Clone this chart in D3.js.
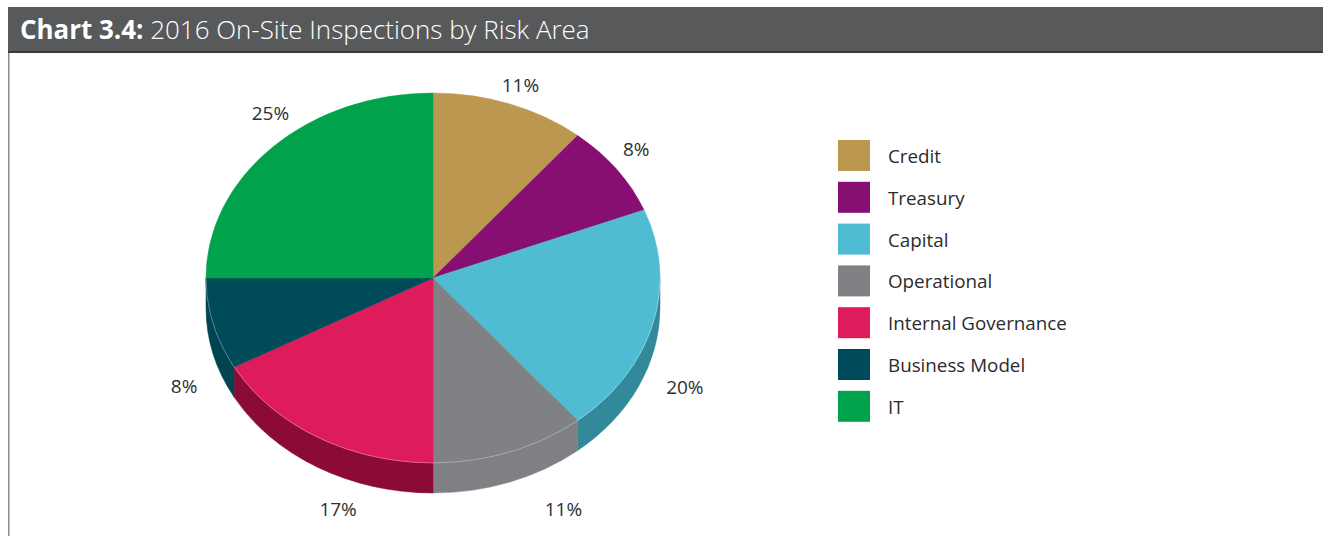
<!DOCTYPE html>
<html>
<head>
<meta charset="utf-8">
<script src="https://cdn.jsdelivr.net/npm/d3@7"></script>
<style>
  html, body { margin: 0; padding: 0; background: #fff; }
  svg { display: block; }
  text { font-family: "Open Sans", "Noto Sans", "DejaVu Sans", sans-serif; }
</style>
</head>
<body>
<svg id="chart" width="1323" height="536"></svg>
<script>
// Risk areas and their share of 2016 on-site inspections (%)
const categories = ["Credit", "Treasury", "Capital", "Operational", "Internal Governance", "Business Model", "IT"];
const shares = [11, 8, 20, 11, 17, 8, 25];
const topColors = ["#bc974f", "#870e73", "#4fbcd4", "#808184", "#de1c5b", "#004b5a", "#00a34c"];
const sideColors = ["#8f7238", "#5e0a50", "#32899a", "#7f8083", "#8c0b35", "#004452", "#007a38"];
const chartTitleBold = "Chart 3.4:";
const chartTitleRest = " 2016 On-Site Inspections by Risk Area";

// Manual label placement tweaks (px) applied after the elliptical placement
const labelNudge = [[-1, 7], [-8, -4], [-1, 26], [42, 1], [38, 18], [4, 25], [22, -15]];

const svg = d3.select("#chart");

// Frame: title bar and left rule
svg.append("rect").attr("x", 8).attr("y", 7).attr("width", 1315).attr("height", 46).attr("fill", "#58595b");
svg.append("rect").attr("x", 8).attr("y", 51).attr("width", 1315).attr("height", 2).attr("fill", "#3b3b3d");
svg.append("line").attr("x1", 8.75).attr("x2", 8.75).attr("y1", 53).attr("y2", 536)
  .attr("stroke", "#8c8c8c").attr("stroke-width", 1.5);

const title = svg.append("text").attr("x", 20).attr("y", 39)
  .attr("fill", "#ffffff").attr("font-size", 24);
title.append("tspan").attr("font-weight", 700).text(chartTitleBold);
title.append("tspan").attr("font-weight", 300).text(chartTitleRest);
// fit title to its width in the bar
const tw = title.node().getComputedTextLength();
title.attr("font-size", 24 * 570 / tw);

// 3D pie geometry
const cx = 433, cy = 278, rx = 227, ry = 185, depth = 30;
const pt = (a, dy = 0) => [cx + rx * Math.sin(a), cy - ry * Math.cos(a) + dy];

const pie = d3.pie().sort(null).value(d => d)(shares);

const g = svg.append("g");

// Outer walls for the front half (angles between 90° and 270°)
pie.forEach((d, i) => {
  const s = Math.max(d.startAngle, Math.PI / 2);
  const e = Math.min(d.endAngle, 3 * Math.PI / 2);
  if (e <= s) return;
  const p0 = pt(s), p1 = pt(e), q1 = pt(e, depth), q0 = pt(s, depth);
  const large = (e - s) > Math.PI ? 1 : 0;
  const path = `M${p0}A${rx},${ry} 0 ${large} 1 ${p1}L${q1}A${rx},${ry} 0 ${large} 0 ${q0}Z`;
  g.append("path").attr("d", path).attr("fill", sideColors[i])
    .attr("stroke", sideColors[i]).attr("stroke-width", 0.5);
});

// Top faces
pie.forEach((d, i) => {
  const p0 = pt(d.startAngle), p1 = pt(d.endAngle);
  const large = (d.endAngle - d.startAngle) > Math.PI ? 1 : 0;
  const path = `M${cx},${cy}L${p0}A${rx},${ry} 0 ${large} 1 ${p1}Z`;
  g.append("path").attr("d", path).attr("fill", topColors[i])
    .attr("stroke", topColors[i]).attr("stroke-width", 0.5);
});

// faint light seam where the top face meets the wall
g.append("path")
  .attr("d", `M${pt(Math.PI / 2)}A${rx},${ry} 0 0 1 ${pt(3 * Math.PI / 2)}`)
  .attr("fill", "none").attr("stroke", "#ffffff").attr("stroke-opacity", 0.35).attr("stroke-width", 0.8);

// Percentage labels
pie.forEach((d, i) => {
  const a = (d.startAngle + d.endAngle) / 2;
  const x = cx + 1.15 * rx * Math.sin(a) + labelNudge[i][0];
  const y = cy - 1.15 * ry * Math.cos(a) + (Math.cos(a) < 0 ? depth : 0) + labelNudge[i][1];
  svg.append("text").attr("x", x).attr("y", y)
    .attr("text-anchor", "middle").attr("dominant-baseline", "central")
    .attr("font-size", 19).attr("fill", "#2e2e30")
    .text(`${d.value}%`);
});

// Legend
const legend = svg.append("g").attr("transform", "translate(838,140)");
const step = 41.8;
categories.forEach((c, i) => {
  const row = legend.append("g").attr("transform", `translate(0,${i * step})`);
  row.append("rect").attr("width", 32).attr("height", 31).attr("fill", topColors[i]);
  row.append("text").attr("x", 50).attr("y", 23)
    .attr("font-size", 18.8).attr("fill", "#2b2b2d").text(c);
});
</script>
</body>
</html>
